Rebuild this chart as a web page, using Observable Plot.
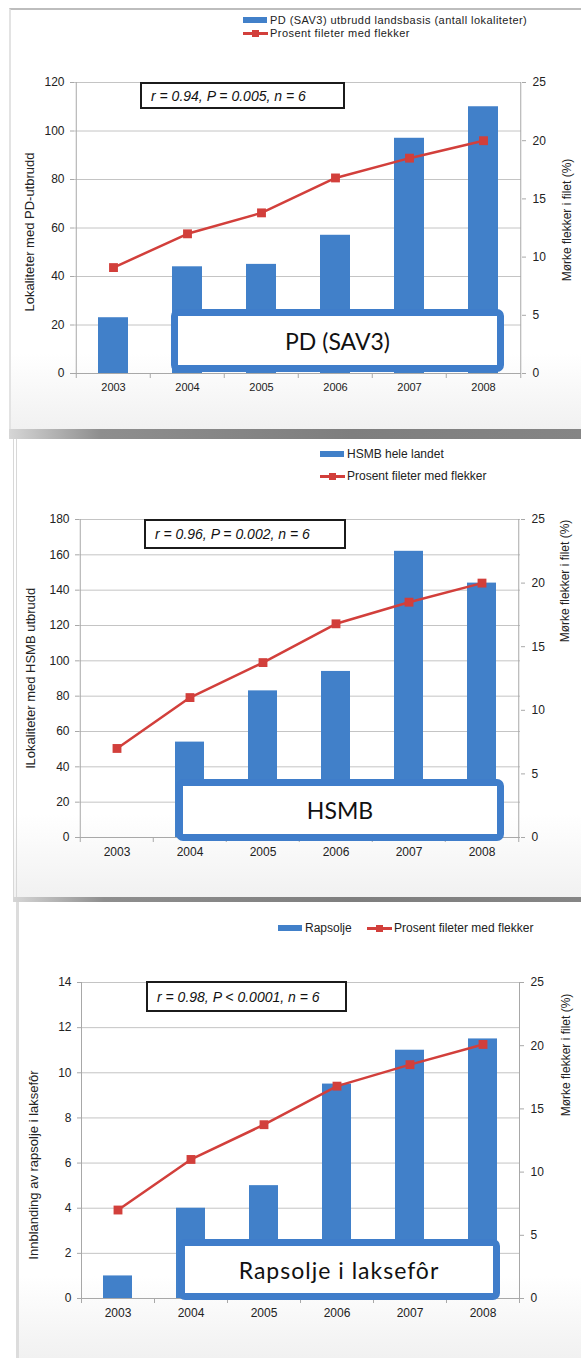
<!DOCTYPE html>
<html>
<head>
<meta charset="utf-8">
<script src="https://cdn.jsdelivr.net/npm/d3@7"></script>
<script src="https://cdn.jsdelivr.net/npm/@observablehq/plot@0.6"></script>
<style>
  html, body { margin: 0; padding: 0; background: #fff; }
  body { position: relative; width: 581px; height: 1358px; overflow: hidden;
         font-family: "Liberation Sans", Arial, sans-serif; color: #222; }
  .panel { position: absolute; right: 0;
           background: linear-gradient(to bottom, #fff 0%, #fff 82%, #f1f1f1 100%);
           border-left: 2px solid #e3e3e3; box-sizing: border-box; }
  .shadow { position: absolute; right: 0;
            background: linear-gradient(to right, #d6d6d6 0%, #8e8e8e 16%, #7e7e7e 60%, #858585 100%); }
  .plotsvg { position: absolute; left: 0; }
  .legtext { position: absolute; white-space: nowrap; transform: translateY(-50%); color: #222; }
  .swatch { position: absolute; background: #4180c9; }
  .redline { position: absolute; background: #d23f3b; height: 3px; }
  .redsq { position: absolute; background: #d23f3b; width: 7px; height: 7px; }
  .stat { position: absolute; box-sizing: border-box; border: 2px solid #1b1b1b; background: #fff;
          font-style: italic; font-size: 14px; display: flex; align-items: center; padding-left: 9px;
          white-space: nowrap; color: #111; }
  .tag { position: absolute; box-sizing: border-box; border: 7px solid #3f7dca; border-radius: 7px;
         background: #fff; display: flex; align-items: center; justify-content: center;
         font-family: Lato, "Open Sans", sans-serif; font-size: 23px; color: #111; white-space: nowrap; }
  .ytitle { position: absolute; white-space: nowrap; transform: translate(-50%, -50%) rotate(-90deg);
            color: #222; }
</style>
</head>
<body>
<script>
// Years on the x axis
const years = ["2003", "2004", "2005", "2006", "2007", "2008"];

// Left-axis series (bars)
const pdOutbreaks = [23, 44, 45, 57, 97, 110];          // PD (SAV3) outbreaks, number of sites
const hsmbOutbreaks = [null, 54, 83, 94, 162, 144];     // HSMB outbreaks, whole country
const rapeseedOil = [1, 4, 5, 9.5, 11, 11.5];           // rapeseed oil in salmon feed

// Right-axis series (line): percent fillets with dark spots
const spotsPD = [9.1, 12.0, 13.8, 16.8, 18.5, 20.0];
const spotsHSMB = [7.0, 11.0, 13.75, 16.8, 18.5, 20.0];
const spotsRapeseed = [7.0, 11.0, 13.75, 16.8, 18.5, 20.1];

// Axis ticks
const ticksPD = [0, 20, 40, 60, 80, 100, 120];
const ticksHSMB = [0, 20, 40, 60, 80, 100, 120, 140, 160, 180];
const ticksRapeseed = [0, 2, 4, 6, 8, 10, 12, 14];
const ticksPercent = [0, 5, 10, 15, 20, 25];

// Texts
const lineLegend = "Prosent fileter med flekker";
const rightTitle = "Mørke flekker i filet (%)";

const BLUE = "#4180c9";
const RED = "#d23f3b";
const GRID = "#c4c4c4";
const AXIS = "#a8a8a8";

function el(cls, style, text) {
  const d = document.createElement("div");
  d.className = cls;
  Object.assign(d.style, style);
  if (text != null) d.textContent = text;
  document.body.appendChild(d);
  return d;
}

function drawPanel(p) {
  const W = 581;
  const table = years.map((year, i) => ({year, value: p.values[i], pct: p.pct[i]}));
  const step = (p.right - p.left) / years.length;
  const common = {
    width: W, height: p.svgHeight,
    marginLeft: p.left, marginRight: W - p.right,
    marginTop: p.plotTop - p.svgTop, marginBottom: p.svgTop + p.svgHeight - p.plotBottom,
    x: {type: "band", domain: years, paddingInner: 0.6, paddingOuter: 0.3, axis: null, label: null},
    style: {background: "transparent", fontFamily: "Liberation Sans, Arial, sans-serif", color: "#222", overflow: "visible"}
  };

  // Bars, grid, left axis and x axis
  const bars = Plot.plot({
    ...common,
    y: {domain: [0, p.yMax], axis: null, label: null},
    marks: [
      Plot.gridY(p.ticks, {stroke: GRID, strokeOpacity: 1}),
      Plot.barY(table.filter(d => d.value != null), {x: "year", y: "value", fill: BLUE}),
      Plot.ruleY([0], {stroke: AXIS}),
      Plot.ruleX(years, {x: d => d, y1: 0, y2: 0, insetBottom: -5, dx: -step / 2, stroke: AXIS}),
      Plot.ruleX([years[years.length - 1]], {x: d => d, y1: 0, y2: 0, insetBottom: -5, dx: step / 2, stroke: AXIS}),
      Plot.ruleX([years[0]], {x: d => d, y1: 0, y2: p.yMax, dx: -step / 2, stroke: AXIS}),
      Plot.axisY(p.ticks, {anchor: "left", label: null, tickSize: 4, tickPadding: 6, stroke: AXIS, fill: "#222", fontSize: 12}),
      Plot.axisX(years, {anchor: "bottom", label: null, tickSize: 0, tickPadding: 10, fill: "#222",
                         fontSize: p.xFont, style: {letterSpacing: p.xSpacing}})
    ]
  });

  // Percentage line with its right axis
  const line = Plot.plot({
    ...common,
    y: {domain: [0, 25], axis: null, label: null},
    marks: [
      Plot.ruleX([years[years.length - 1]], {x: d => d, y1: 0, y2: 25, dx: step / 2, stroke: AXIS}),
      Plot.axisY(ticksPercent, {anchor: "right", label: null, tickSize: 4, tickPadding: 7, stroke: AXIS, fill: "#222", fontSize: 12}),
      Plot.line(table, {x: "year", y: "pct", stroke: RED, strokeWidth: 2.5}),
      Plot.dot(table, {x: "year", y: "pct", symbol: "square", r: 5, fill: RED})
    ]
  });

  bars.classList.add("plotsvg");
  bars.style.top = p.svgTop + "px";
  document.body.appendChild(bars);

  // Stat box and title tag sit above the bars
  el("stat", {left: p.stat[0] + "px", top: p.stat[1] + "px", width: p.stat[2] + "px", height: p.stat[3] + "px"}, p.statText);
  el("tag", {left: p.tag[0] + "px", top: p.tag[1] + "px", width: p.tag[2] + "px", height: p.tag[3] + "px",
             letterSpacing: p.tagSpacing || "0px"}, p.tagText);

  line.classList.add("plotsvg");
  line.style.top = p.svgTop + "px";
  document.body.appendChild(line);

  // Axis titles
  el("ytitle", {left: p.leftTitle[0] + "px", top: p.leftTitle[1] + "px", fontSize: p.leftTitle[2] + "px"}, p.leftTitleText);
  el("ytitle", {left: p.rightTitle[0] + "px", top: p.rightTitle[1] + "px", fontSize: "12px"}, rightTitle);

  // Legend
  for (const item of p.legend) {
    if (item.kind === "bar") {
      el("swatch", {left: item.x + "px", top: (item.y - 3) + "px", width: "24px", height: "6px"});
    } else {
      el("redline", {left: item.x + "px", top: (item.y - 1.5) + "px", width: "25px"});
      el("redsq", {left: (item.x + 9) + "px", top: (item.y - 3.5) + "px"});
    }
    el("legtext", {left: (item.x + 27) + "px", top: item.y + "px", fontSize: p.legFont + "px",
                   letterSpacing: p.legSpacing || "0px"}, item.text);
  }
}

// Panel frames and the grey shadow bars between them
el("panel", {left: "9px", top: "8px", height: "421px", borderTop: "2px solid #bdbdbd"});
el("shadow", {left: "9px", top: "429px", height: "10px"});
el("panel", {left: "13px", top: "439px", height: "458px", borderLeft: "4px double #d8d8d8"});
el("shadow", {left: "13px", top: "897px", height: "5px"});
el("panel", {left: "16px", top: "902px", height: "456px", borderLeft: "3px solid #dcdcdc"});

drawPanel({
  values: pdOutbreaks, pct: spotsPD, ticks: ticksPD, yMax: 120,
  svgTop: 0, svgHeight: 420, plotTop: 82, plotBottom: 373, left: 74, right: 521,
  xFont: 11, xSpacing: "0.6px",
  stat: [140, 82, 205, 27], statText: "r = 0.94, P = 0.005, n = 6",
  tag: [171, 309, 333, 63], tagText: "PD (SAV3)",
  leftTitle: [29, 232, 13], leftTitleText: "Lokaliteter med PD-utbrudd",
  rightTitle: [567, 220],
  legFont: 11, legSpacing: "0.45px",
  legend: [
    {kind: "bar", x: 243, y: 20, text: "PD (SAV3) utbrudd landsbasis (antall lokaliteter)"},
    {kind: "line", x: 243, y: 33, text: lineLegend}
  ]
});

drawPanel({
  values: hsmbOutbreaks, pct: spotsHSMB, ticks: ticksHSMB, yMax: 180,
  svgTop: 440, svgHeight: 450, plotTop: 519, plotBottom: 837, left: 79, right: 520,
  xFont: 12, xSpacing: "0px",
  stat: [144, 519, 202, 30], statText: "r = 0.96, P = 0.002, n = 6",
  tag: [176, 779, 328, 62], tagText: "HSMB",
  leftTitle: [30, 678, 13], leftTitleText: "lLokaliteter med HSMB utbrudd",
  rightTitle: [565, 581],
  legFont: 12,
  legend: [
    {kind: "bar", x: 320, y: 454, text: "HSMB hele landet"},
    {kind: "line", x: 320, y: 476, text: lineLegend}
  ]
});

drawPanel({
  values: rapeseedOil, pct: spotsRapeseed, ticks: ticksRapeseed, yMax: 14,
  svgTop: 902, svgHeight: 450, plotTop: 982, plotBottom: 1298, left: 81, right: 519,
  xFont: 12, xSpacing: "0px",
  stat: [146, 981, 201, 31], statText: "r = 0.98, P < 0.0001, n = 6",
  tag: [178, 1239, 322, 61], tagText: "Rapsolje i laksefôr", tagSpacing: "1px",
  leftTitle: [33, 1165, 13], leftTitleText: "Innblanding  av rapsolje i laksefôr",
  rightTitle: [566, 1055],
  legFont: 12,
  legend: [
    {kind: "bar", x: 278, y: 928, text: "Rapsolje"},
    {kind: "line", x: 367, y: 928, text: lineLegend}
  ]
});
</script>
</body>
</html>
